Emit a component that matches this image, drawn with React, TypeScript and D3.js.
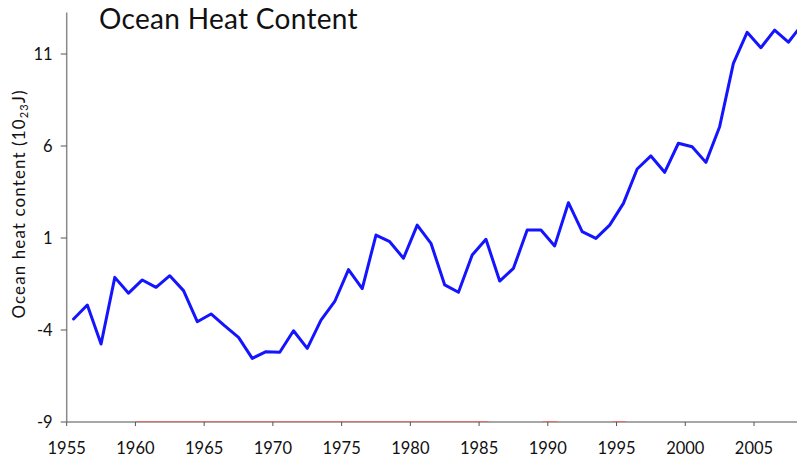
import React from "react";
import * as d3 from "d3";

const years: number[] = [
  1955, 1956, 1957, 1958, 1959, 1960, 1961, 1962, 1963, 1964,
  1965, 1966, 1967, 1968, 1969, 1970, 1971, 1972, 1973, 1974,
  1975, 1976, 1977, 1978, 1979, 1980, 1981, 1982, 1983, 1984,
  1985, 1986, 1987, 1988, 1989, 1990, 1991, 1992, 1993, 1994,
  1995, 1996, 1997, 1998, 1999, 2000, 2001, 2002, 2003, 2004,
  2005, 2006, 2007, 2008,
];
const heatContent: number[] = [
  -3.4, -2.64, -4.76, -1.14, -2.0, -1.28, -1.68, -1.05, -1.86, -3.55,
  -3.13, -3.78, -4.4, -5.54, -5.18, -5.21, -4.04, -5.0, -3.46, -2.45,
  -0.72, -1.75, 1.16, 0.8, -0.1, 1.7, 0.71, -1.55, -1.95, 0.08,
  0.93, -1.34, -0.65, 1.43, 1.43, 0.57, 2.92, 1.35, 0.98, 1.7,
  2.88, 4.75, 5.46, 4.57, 6.15, 5.96, 5.11, 7.05, 10.49, 12.18,
  11.34, 12.3, 11.64, 12.6,
];
const xTicks: number[] = [1955, 1960, 1965, 1970, 1975, 1980, 1985, 1990, 1995, 2000, 2005];
const yTicks: number[] = [-9, -4, 1, 6, 11];
const redSegments: [number, number][] = [
  [1960, 1985.7],
  [1989.6, 1990.7],
  [1994.7, 1995.7],
];
const title = "Ocean Heat Content";

const W = 797;
const H = 460;
const FONT = "Lato, 'Open Sans', sans-serif";

export default function App() {
  const x = d3.scaleLinear().domain([1955, 2005]).range([66.7, 754]);
  const y = d3.scaleLinear().domain([-9, 11]).range([422, 54]);

  const pts: [number, number][] = years.map((yr, i) => [yr + 0.5, heatContent[i]]);
  const line = d3
    .line<[number, number]>()
    .x((d) => x(d[0]))
    .y((d) => y(d[1]));

  const axisColor = "#8a8a8a";

  return (
    <svg
      width={W}
      height={H}
      viewBox={`0 0 ${W} ${H}`}
      style={{ position: "absolute", left: 0, top: 0, background: "#fff" }}
    >
      <rect x={0} y={0} width={W} height={H} fill="#fff" />
      {/* title */}
      <text x={99} y={29} fontFamily={FONT} fontSize={28} fill="#111" letterSpacing={0.3}>
        {title}
      </text>

      {/* y axis */}
      <line x1={x(1955)} x2={x(1955)} y1={12.5} y2={y(-9)} stroke={axisColor} strokeWidth={1.5} />
      {yTicks.map((t) => (
        <g key={t}>
          <line x1={x(1955) - 6} x2={x(1955)} y1={y(t)} y2={y(t)} stroke="#555" strokeWidth={1} />
          <text
            x={x(1955) - 14}
            y={y(t)}
            dy="0.36em"
            textAnchor="end"
            fontFamily={FONT}
            fontSize={16.5}
            fill="#111"
          >
            {t}
          </text>
        </g>
      ))}

      {/* x axis */}
      <line x1={x(1955)} x2={W} y1={y(-9)} y2={y(-9)} stroke={axisColor} strokeWidth={1.5} />
      {redSegments.map(([a, b], i) => (
        <line key={i} x1={x(a)} x2={x(b)} y1={y(-9) - 0.5} y2={y(-9) - 0.5} stroke="#e07070" strokeWidth={1} />
      ))}
      {xTicks.map((t) => (
        <g key={t}>
          <line x1={x(t)} x2={x(t)} y1={y(-9)} y2={y(-9) + 4} stroke="#555" strokeWidth={1} />
          <text
            x={x(t)}
            y={454}
            textAnchor="middle"
            fontFamily={FONT}
            fontSize={16.5}
            fill="#111"
          >
            {t}
          </text>
        </g>
      ))}

      {/* y label */}
      <text
        transform={`translate(25, 204) rotate(-90)`}
        textAnchor="middle"
        fontFamily={FONT}
        fontSize={17}
        letterSpacing={1.1}
        fill="#111"
      >
        Ocean heat content (10
        <tspan fontSize={11} dy={3}>23</tspan>
        <tspan dy={-3}>J)</tspan>
      </text>

      {/* data line */}
      <path
        d={line(pts) ?? ""}
        fill="none"
        stroke="#1414ff"
        strokeWidth={3}
        strokeLinejoin="round"
        strokeLinecap="round"
      />
    </svg>
  );
}
